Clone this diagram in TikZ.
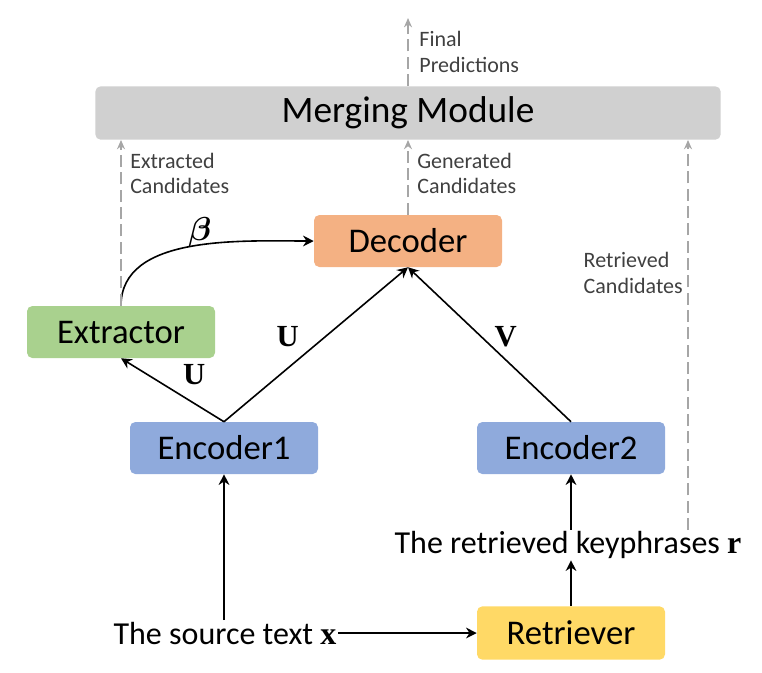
\documentclass[tikz,border=0pt]{standalone}
\usepackage{amsmath,bm}
\usepackage{fontspec}
\setmainfont{Carlito}
\newfontfamily\serifb{Liberation Serif}
\usetikzlibrary{positioning,arrows.meta}
\definecolor{mgray}{HTML}{D0D0D0}
\definecolor{morange}{HTML}{F4B183}
\definecolor{mgreen}{HTML}{A9D18E}
\definecolor{mblue}{HTML}{8FAADC}
\definecolor{myellow}{HTML}{FFD966}
\begin{document}
\begin{tikzpicture}[
	x=0.75pt, y=-0.75pt,
	box/.style = {
		rectangle, rounded corners=4pt, align=center,
		minimum width=141pt, minimum height=39pt,
		font=\fontsize{26}{30}\selectfont, inner sep=0pt},
	txt/.style = {font=\fontsize{24}{28}\selectfont, inner sep=1pt},
	small/.style = {font=\fontsize{16.5}{19}\selectfont, align=left, inner sep=0pt, text=black!75},
	sym/.style = {font=\serifb\bfseries\fontsize{23}{26}\selectfont},
	arrow/.style = {very thick, -{Stealth[length=8pt,width=8pt]}},
	dashed arrow/.style = {very thick, gray!70, dash pattern=on 9pt off 4pt,
		-{Stealth[length=7pt,width=6pt]}}
]
\useasboundingbox (0,0) rectangle (762,672);

\node (merge) [box, fill=mgray, minimum width=469pt, minimum height=40pt,
	font=\fontsize{28}{32}\selectfont] at (408,113) {Merging Module};
\node (dec) [box, fill=morange] at (408,241) {Decoder};
\node (ext) [box, fill=mgreen] at (121,332) {Extractor};
\node (enc1) [box, fill=mblue] at (224,448) {Encoder1};
\node (enc2) [box, fill=mblue] at (571,448) {Encoder2};
\node (ret) [box, fill=myellow, minimum height=40pt] at (571,633) {Retriever};

\node (src) [txt] at (225,633) {The source text \textbf{\serifb x}};
\node (kp) [txt] at (568,545) {The retrieved keyphrases \textbf{\serifb r}};

\coordinate (top) at (408,18);
\coordinate (rr) at (688,530);

% encoders and decoder
\draw[arrow] (enc1.north) -- node[sym, pos=0.45, above left=0pt and 2pt] {U} (dec.south);
\draw[arrow] (enc1.north) -- node[sym, pos=0.5, above right=0pt and 4pt] {U} (ext.south);
\draw[arrow] (enc2.north) -- node[sym, pos=0.55, right=6pt] {V} (dec.south);
\draw[arrow] (ext.north) to[out=90, in=180, looseness=0.9] (dec.west);
\node[sym] (beta) at (200,232) {$\bm{\beta}$};

% inputs
\draw[arrow] (src.north -| enc1) -- (enc1.south);
\draw[arrow] (src.east) -- (ret.west);
\draw[arrow] (ret.north) -- (ret.north |- kp.south);
\draw[arrow] (kp.north -| enc2) -- (enc2.south);

% candidates
\draw[dashed arrow] (ext.north) -- (ext.north |- merge.south);
\node[small, anchor=north west] at (130,153) {Extracted\\Candidates};
\draw[dashed arrow] (dec.north) -- (merge.south);
\node[small, anchor=north west] at (417,153) {Generated\\Candidates};
\draw[dashed arrow] (rr) -- (rr |- merge.south);
\node[small, anchor=east] at (683,273) {Retrieved\\Candidates};
\draw[dashed arrow] (merge.north) -- node[small, pos=0.5, right=8pt] {Final\\Predictions} (top);
\end{tikzpicture}
\end{document}
